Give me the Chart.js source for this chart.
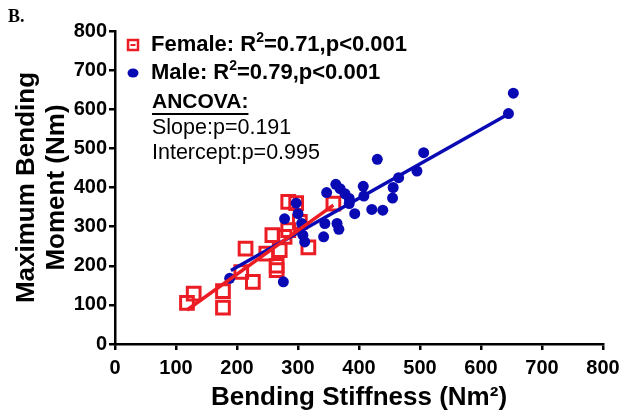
<!DOCTYPE html>
<html>
<head>
<meta charset="utf-8">
<script src="https://cdn.jsdelivr.net/npm/chart.js@4"></script>
<style>
    html, body { margin: 0; padding: 0; background: #fff; }
    #wrap { position: relative; width: 629px; height: 417px; }
</style>
</head>
<body>
<div id="wrap"><canvas id="chart" width="629" height="417"></canvas></div>
<script>
// Bending moment vs stiffness, female / male

const femaleStiffness = [118, 129, 177, 177, 207, 214, 226, 248, 258, 265, 265, 270, 278, 284, 284, 297, 303, 317, 358];
const femaleMoment    = [105, 129, 135, 93, 184, 244, 159, 231, 278, 189, 200, 240, 274, 291, 363, 360, 312, 247, 359];

const maleStiffness = [188, 276, 278, 297, 300, 306, 308, 311, 342, 344, 347, 362, 364, 367, 369, 377, 384, 384, 393, 407, 408, 421, 439, 430, 455, 456, 465, 495, 506, 645, 653];
const maleMoment    = [168, 159, 320, 360, 333, 308, 278, 261, 274, 308, 387, 408, 308, 293, 397, 384, 372, 359, 333, 403, 378, 344, 342, 472, 373, 400, 425, 442, 489, 589, 641];

// regression line end points
const femaleFitX = [118, 358];
const femaleFitY = [87, 355];
const maleFitX = [190, 645];
const maleFitY = [188, 588];

const xTicks = [0, 100, 200, 300, 400, 500, 600, 700, 800];
const yTicks = [0, 100, 200, 300, 400, 500, 600, 700, 800];

const legendLabels = [
    { sex: 'Female', r2: '0.71', p: 'p<0.001' },
    { sex: 'Male', r2: '0.79', p: 'p<0.001' }
];
const ancovaLines = ['Slope:p=0.191', 'Intercept:p=0.995'];

const RED = '#ec1c24';
const BLUE = '#0a0ab4';
const FONT = 'Arial, "Liberation Sans", sans-serif';

function toPoints(xs, ys) {
    return xs.map((x, i) => ({ x: x, y: ys[i] }));
}

// legend + ANCOVA notes, drawn in the plot like the original
const notesPlugin = {
    id: 'notes',
    afterDraw(chart) {
        const ctx = chart.ctx;
        ctx.save();
        ctx.textBaseline = 'middle';
        ctx.fillStyle = '#000';

        // panel letter
        ctx.font = 'bold 18px "Liberation Serif", "Times New Roman", serif';
        ctx.fillText('B.', 8, 17);

        const rows = [45, 73];
        legendLabels.forEach((item, i) => {
            const y = rows[i];
            if (i === 0) {
                ctx.strokeStyle = RED;
                ctx.lineWidth = 2.5;
                ctx.strokeRect(128, y - 5, 10, 10);
                ctx.fillStyle = RED;
                ctx.fillRect(130.5, y - 1, 5, 2);
            } else {
                ctx.fillStyle = BLUE;
                ctx.beginPath();
                ctx.ellipse(133, y, 5.5, 4.5, 0, 0, Math.PI * 2);
                ctx.fill();
            }
            ctx.fillStyle = '#000';
            let x = 151;
            ctx.font = 'bold 22px ' + FONT;
            const head = item.sex + ': R';
            ctx.fillText(head, x, y);
            x += ctx.measureText(head).width;
            ctx.font = 'bold 14px ' + FONT;
            ctx.fillText('2', x, y - 7);
            x += ctx.measureText('2').width;
            ctx.font = 'bold 22px ' + FONT;
            ctx.fillText('=' + item.r2 + ',' + item.p, x, y);
        });

        ctx.font = 'bold 21px ' + FONT;
        ctx.fillText('ANCOVA:', 152, 102);
        const w = ctx.measureText('ANCOVA:').width;
        ctx.fillRect(152, 113, w, 2);

        ctx.font = '21.5px ' + FONT;
        ancovaLines.forEach((t, i) => ctx.fillText(t, 152, 128 + i * 25));
        ctx.restore();
    }
};

const ctx = document.getElementById('chart').getContext('2d');
new Chart(ctx, {
    type: 'scatter',
    data: {
        datasets: [
            {
                type: 'line',
                data: toPoints(femaleFitX, femaleFitY),
                borderColor: RED,
                borderWidth: 3.5,
                pointRadius: 0,
                fill: false
            },
            {
                type: 'line',
                data: toPoints(maleFitX, maleFitY),
                borderColor: BLUE,
                borderWidth: 3.5,
                pointRadius: 0,
                fill: false
            },
            {
                label: 'Male',
                data: toPoints(maleStiffness, maleMoment),
                pointStyle: 'circle',
                pointRadius: 5.5,
                backgroundColor: BLUE,
                borderColor: BLUE,
                borderWidth: 0
            },
            {
                label: 'Female',
                data: toPoints(femaleStiffness, femaleMoment),
                pointStyle: 'rect',
                pointRadius: 9,
                backgroundColor: 'rgba(255,255,255,0)',
                borderColor: RED,
                borderWidth: 3
            }
        ]
    },
    options: {
        responsive: false,
        animation: false,
        layout: { padding: { top: 31, right: 26, left: 0, bottom: 0 } },
        plugins: {
            legend: { display: false },
            tooltip: { enabled: false }
        },
        scales: {
            x: {
                type: 'linear',
                min: 0,
                max: 800,
                afterBuildTicks: (scale) => { scale.ticks = xTicks.map(v => ({ value: v })); },
                afterFit: (scale) => { scale.height = 73; },
                grid: { drawOnChartArea: false, drawTicks: true, tickLength: 6, color: '#000', lineWidth: 2.5 },
                border: { color: '#000', width: 2.5 },
                ticks: { color: '#000', padding: 6, maxRotation: 0, font: { family: FONT, size: 20, weight: 'bold' } },
                title: {
                    display: true,
                    text: 'Bending Stiffness (Nm²)',
                    color: '#000',
                    padding: { top: 0, bottom: 4 },
                    font: { family: FONT, size: 26, weight: 'bold' }
                }
            },
            y: {
                type: 'linear',
                min: 0,
                max: 800,
                afterBuildTicks: (scale) => { scale.ticks = yTicks.map(v => ({ value: v })); },
                afterFit: (scale) => { scale.width = 115; },
                grid: { drawOnChartArea: false, drawTicks: true, tickLength: 6, color: '#000', lineWidth: 2.5 },
                border: { color: '#000', width: 2.5 },
                ticks: { color: '#000', padding: 2, font: { family: FONT, size: 20, weight: 'bold' } },
                title: {
                    display: true,
                    text: ['Maximum Bending', 'Moment (Nm)'],
                    color: '#000',
                    padding: { top: 12, bottom: 0 },
                    font: { family: FONT, size: 26, weight: 'bold', lineHeight: 1.15 }
                }
            }
        }
    },
    plugins: [notesPlugin]
});
</script>
</body>
</html>
